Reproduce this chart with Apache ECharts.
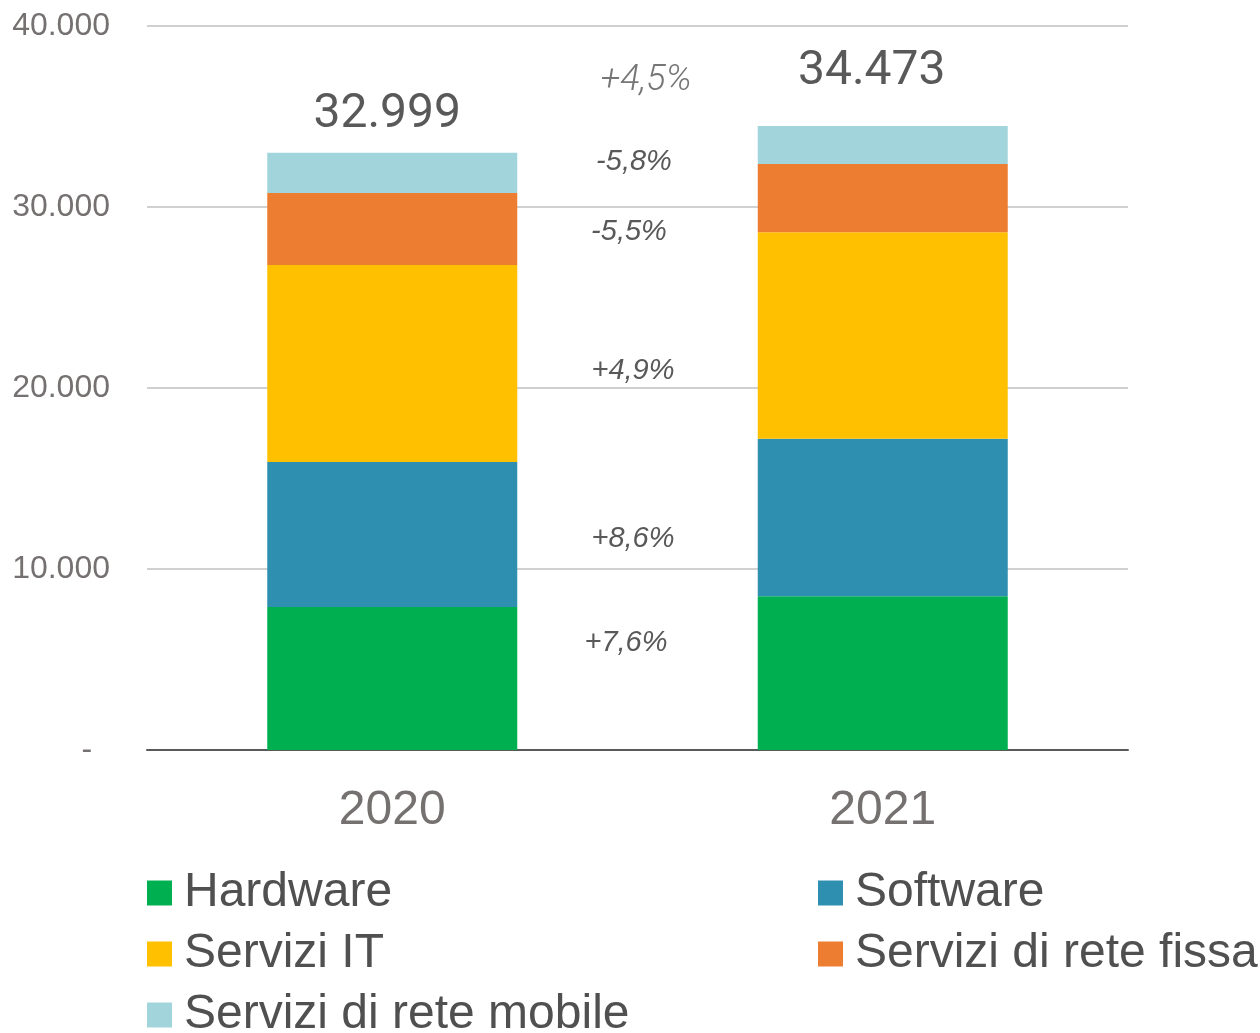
<!DOCTYPE html>
<html>
<head>
<meta charset="utf-8">
<script src="https://cdn.jsdelivr.net/npm/echarts@6/dist/echarts.min.js"></script>
<style>
  html, body { margin: 0; padding: 0; background: #fff; }
  #chart { width: 1260px; height: 1033px; }
</style>
</head>
<body>
<div id="chart"></div>
<script>
const categories = ['2020', '2021'];
const hardware = [7900, 8500];
const software = [8010, 8700];
const serviziIT = [10880, 11410];
const reteFissa = [3980, 3760];
const reteMobile = [2229, 2103];
const totals = ['32.999', '34.473'];
const growth = ['+4,5%', '-5,8%', '-5,5%', '+4,9%', '+8,6%', '+7,6%'];
const yTicks = [0, 10000, 20000, 30000, 40000];

const colors = ['#00B050', '#2E8FB0', '#FFC000', '#ED7D31', '#A2D5DB'];
const names = ['Hardware', 'Software', 'Servizi IT', 'Servizi di rete fissa', 'Servizi di rete mobile'];
const values = [hardware, software, serviziIT, reteFissa, reteMobile];

const fmt = v => v === 0 ? '-  ' : String(v).replace(/\B(?=(\d{3})+(?!\d))/g, '.');

const series = names.map((name, i) => {
    let s = {
        name: name,
        type: 'bar',
        stack: 'tot',
        barWidth: 250,
        itemStyle: { color: colors[i] },
        data: values[i].slice()
    };
    if (i === names.length - 1) {
        s.data = values[i].map((v, k) => ({
            value: v,
            label: {
                show: true,
                position: 'top',
                offset: k === 0 ? [-5, -9] : [-11, -25],
                formatter: () => totals[k],
                fontFamily: 'Roboto',
                fontSize: 48,
                color: '#595959'
            }
        }));
    }
    return s;
});

// growth labels between the bars
const growthPos = [[646, 81], [634, 162], [629, 232], [633, 371], [633, 539], [626, 643]];
const graphic = growth.map((t, i) => ({
    type: 'text',
    x: growthPos[i][0],
    y: growthPos[i][1],
    style: {
        text: t,
        textAlign: 'center',
        textVerticalAlign: 'middle',
        fontFamily: i === 0 ? 'Roboto' : 'Liberation Sans',
        fontStyle: 'italic',
        fontWeight: i === 0 ? 300 : 'normal',
        fontSize: i === 0 ? 36 : 29,
        fill: i === 0 ? '#767676' : '#595959'
    }
}));

// one legend per item, laid out in two columns
const legendPos = [[147, 868], [818, 868], [147, 929], [818, 929], [147, 990]];
const legends = names.map((n, i) => ({
    left: legendPos[i][0],
    top: legendPos[i][1],
    padding: 0,
    data: [n],
    icon: 'rect',
    itemWidth: 25,
    itemHeight: 25,
    selectedMode: false,
    textStyle: { fontFamily: 'Liberation Sans', fontSize: 48, lineHeight: 50, color: '#505050', padding: [0, 0, 0, 7] }
}));

const option = {
    animation: false,
    grid: { left: 147, right: 132, top: 26, bottom: 283 },
    xAxis: {
        type: 'category',
        data: categories,
        axisTick: { show: false },
        axisLine: { lineStyle: { color: '#595959', width: 2 } },
        axisLabel: { fontFamily: 'Liberation Sans', fontSize: 48, color: '#767171', margin: 37 }
    },
    yAxis: {
        type: 'value',
        min: yTicks[0],
        max: yTicks[yTicks.length - 1],
        interval: yTicks[1] - yTicks[0],
        axisLine: { show: false },
        axisTick: { show: false },
        splitLine: { lineStyle: { color: '#D0D0D0', width: 2 } },
        axisLabel: { formatter: fmt, fontFamily: 'Liberation Sans', fontSize: 32, color: '#767171', margin: 37, padding: [4, 0, 0, 0] }
    },
    legend: legends,
    graphic: graphic,
    series: series
};

echarts.init(document.getElementById('chart')).setOption(option);
</script>
</body>
</html>
